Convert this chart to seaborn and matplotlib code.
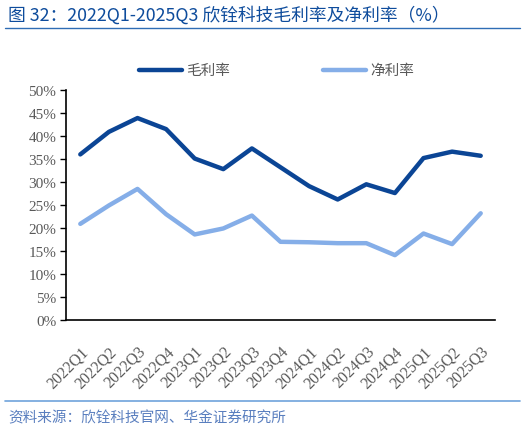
import matplotlib
matplotlib.use("Agg")
import matplotlib.pyplot as plt
import seaborn as sns
import pandas as pd
from matplotlib.ticker import PercentFormatter

quarters = ["2022Q1", "2022Q2", "2022Q3", "2022Q4", "2023Q1", "2023Q2", "2023Q3", "2023Q4",
            "2024Q1", "2024Q2", "2024Q3", "2024Q4", "2025Q1", "2025Q2", "2025Q3"]
gross_margin = [36.0, 40.9, 43.9, 41.5, 35.1, 32.8, 37.3, 33.2,
                29.1, 26.2, 29.5, 27.6, 35.2, 36.6, 35.7]
net_margin = [20.9, 24.9, 28.5, 23.0, 18.6, 19.9, 22.7, 17.0,
              16.9, 16.7, 16.7, 14.1, 18.8, 16.5, 23.2]

df = pd.DataFrame({"季度": quarters, "毛利率": gross_margin, "净利率": net_margin})
long_df = df.melt(id_vars="季度", var_name="指标", value_name="值")

sns.set_style("white")
plt.rcParams["font.family"] = ["Noto Sans CJK SC", "DejaVu Sans"]

fig = plt.figure(figsize=(5.27, 4.31), dpi=100)
ax = fig.add_axes([66 / 527, 110 / 431, 429 / 527, 230 / 431])

palette = {"毛利率": "#0b4595", "净利率": "#85aee8"}
sns.lineplot(data=long_df, x="季度", y="值", hue="指标", palette=palette,
             linewidth=3.2, sort=False, ax=ax, legend=False)

ax.set_xlim(-0.5, len(quarters) - 0.5)
ax.set_ylim(0, 50)
ax.set_yticks(range(0, 51, 5))
ax.yaxis.set_major_formatter(PercentFormatter(decimals=0))
ax.set_xlabel("")
ax.set_ylabel("")

for s in ["top", "right"]:
    ax.spines[s].set_visible(False)
for s in ["left", "bottom"]:
    ax.spines[s].set_color("black")
    ax.spines[s].set_linewidth(1.2)

ax.tick_params(axis="y", which="major", left=True, length=4, width=1, color="black",
               labelsize=11, labelcolor="#595959", pad=3)
ax.tick_params(axis="x", bottom=False, labelsize=11.5, labelcolor="#595959", pad=13)
for lab in ax.get_yticklabels():
    lab.set_fontfamily("Liberation Serif")
for lab in ax.get_xticklabels():
    lab.set_fontfamily("Liberation Serif")
    lab.set_rotation(45)
    lab.set_ha("right")
    lab.set_rotation_mode("anchor")

# legend drawn manually at the top
fig.lines.append(plt.Line2D([139 / 527, 182 / 527], [1 - 71 / 431] * 2, color=palette["毛利率"],
                            linewidth=3.2, transform=fig.transFigure))
fig.text(186 / 527, 1 - 71 / 431, "毛利率", fontsize=10.5, color="#595959", va="center")
fig.lines.append(plt.Line2D([323 / 527, 366 / 527], [1 - 71 / 431] * 2, color=palette["净利率"],
                            linewidth=3.2, transform=fig.transFigure))
fig.text(370 / 527, 1 - 71 / 431, "净利率", fontsize=10.5, color="#595959", va="center")

# title and rules
fig.text(8 / 527, 1 - 15 / 431, "图 32：2022Q1-2025Q3 欣铨科技毛利率及净利率（%）",
         fontsize=12.8, color="#0e4c9c", va="center")
fig.lines.append(plt.Line2D([5 / 527, 520 / 527], [1 - 29 / 431] * 2, color="#2f6db5",
                            linewidth=1.0, transform=fig.transFigure))
fig.lines.append(plt.Line2D([5 / 527, 520 / 527], [1 - 402 / 431] * 2, color="#6fa3dc",
                            linewidth=1.2, transform=fig.transFigure))
fig.text(8 / 527, 1 - 418 / 431, "资料来源：欣铨科技官网、华金证券研究所",
         fontsize=10.5, color="#5a7fbf", va="center", style="italic")

fig.savefig("out.png", dpi=100)
